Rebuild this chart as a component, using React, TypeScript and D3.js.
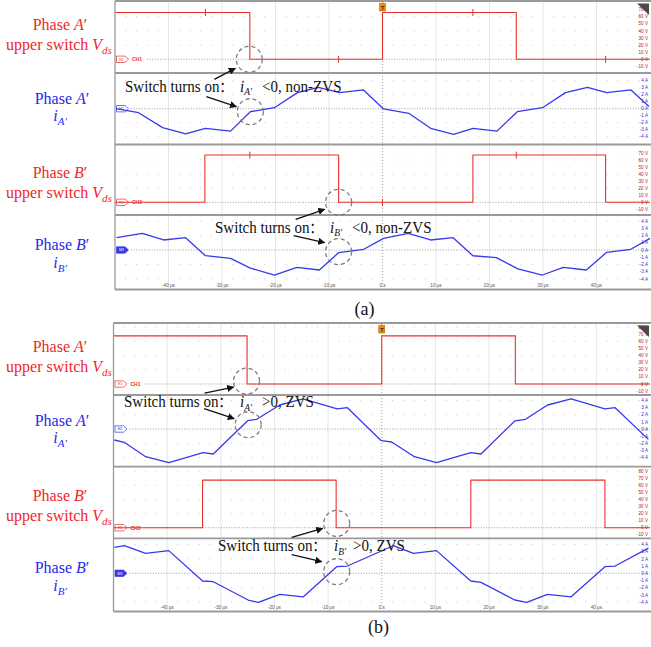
import React from "react";
import * as d3 from "d3";

const W = 651;
const H = 647;
const RED = "#e8302a";
const RED_TXT = "#f02828";
const BLUE = "#3838ee";
const BLUE_TXT = "#2828f0";
const SERIF = "'Liberation Serif', 'Times New Roman', serif";
const SANS = "'Liberation Sans', Arial, sans-serif";

// ---------- axis ticks ----------
const timeTicks = [-40, -30, -20, -10, 0, 10, 20, 30, 40];
const timeTickLabels = ["-40 µs", "-30 µs", "-20 µs", "-10 µs", "0 s", "10 µs", "20 µs", "30 µs", "40 µs"];
const voltTicks = [80, 70, 60, 50, 40, 30, 20, 10, 0, -10];
const ampTicks = [4, 3, 2, 1, 0, -1, -2, -3, -4];

// ---------- (a) data ----------
const aVdsA_t = [-50, -24.8, 0, 25, 50];
const aVdsA_v = [66, 0, 66, 0, 0];
const aGlitchA = [-33.1, -8.2, 16.9, 41.7];
const aIA_t = [-49.8, -45.6, -41.1, -36.8, -33.1, -28.4, -24.7, -20.2, -15.9, -12.0, -8.0, -3.6, 0.2, 4.9, 9.0, 13.3, 16.9, 21.4, 25.2, 29.9, 34.2, 38.3, 41.9, 46.4, 49.8];
const aIA_i = [0, -0.57, -2.7, -3.6, -2.8, -3.2, -0.43, 0.14, 2.3, 3.06, 2.3, 2.7, -0.04, -0.66, -2.8, -3.66, -2.8, -3.2, -0.43, 0.14, 2.3, 3.06, 2.3, 2.7, 0.3];
const aVdsB_t = [-50, -33.2, -8.2, 16.9, 41.7, 50];
const aVdsB_v = [0, 67, 0, 67, 0, 0];
const aGlitchB = [-24.8, 0, 25];
const aIB_t = [-49.7, -44.9, -40.9, -36.8, -33.1, -28.4, -24.7, -20.2, -16.0, -11.8, -8.2, -3.5, 0.2, 4.8, 9.0, 13.2, 16.9, 21.3, 25.3, 29.9, 33.8, 38.1, 41.9, 46.4, 50];
const aIB_i = [1.7, 2.3, 1.38, 1.7, -0.79, -1.15, -2.5, -3.45, -2.4, -2.76, -0.37, 0.1, 1.6, 2.3, 1.38, 1.7, -0.79, -1.06, -2.6, -3.45, -2.4, -2.76, -0.32, 0.1, 1.6];

// ---------- (b) data ----------
const bVdsA_t = [-50, -25.1, 0, 24.9, 50];
const bVdsA_v = [67.5, 0, 67.5, 0, 0];
const bIA_t = [-49.85, -48.0, -44.0, -39.7, -33.3, -31.4, -25.0, -23.3, -19.0, -14.7, -8.3, -6.4, -0.1, 1.85, 6.1, 10.2, 16.6, 18.5, 24.8, 26.8, 30.9, 35.3, 41.6, 43.5, 49.7];
const bIA_i = [-1.55, -1.87, -3.9, -4.75, -3.34, -3.52, 1.17, 1.37, 3.38, 4.23, 2.82, 3.0, -1.65, -1.83, -3.9, -4.75, -3.34, -3.52, 1.13, 1.37, 3.38, 4.23, 2.82, 3.0, -1.46];
const bVdsB_t = [-50, -33.4, -8.5, 16.6, 41.6, 50];
const bVdsB_v = [0, 67, 0, 67, 0, 0];
const bIB_t = [-49.85, -48.0, -44.0, -39.7, -33.4, -31.4, -24.9, -23.0, -19.0, -14.6, -8.4, -6.4, 2.15, 5.9, 10.2, 16.6, 18.5, 24.8, 27.0, 30.9, 35.3, 41.6, 43.5, 49.7];
const bIB_i = [3.6, 3.83, 2.78, 3.15, -1.07, -1.17, -3.71, -4.04, -2.93, -3.26, 0.92, 1.01, 3.83, 2.78, 3.15, -1.07, -1.25, -3.71, -4.04, -2.93, -3.26, 0.92, 1.01, 3.49];

// switching instants marked by dashed circles: [time, value]
const aCircles = [[-24.9, 0], [-24.7, -0.43], [-8.2, 0], [-8.2, -0.23]];
const bCircles = [[-25.2, 4], [-24.9, 0.6], [-8.4, 6], [-8.4, 0.22]];

type Panel = {
  kind: "v" | "i";
  top: number;
  bottom: number;
  zero: number;
  step: number;
  t: number[];
  y: number[];
  tag: string;
  ch?: string;
  glitch?: number[];
  filled?: boolean;
};

type ScreenCfg = {
  left: number;
  right: number;
  top: number;
  bottom: number;
  labelY: number;
  panels: Panel[];
  circles: number[][];
  arrows: number[][][];
};

const screenA: ScreenCfg = {
  left: 115,
  right: 650,
  top: 1,
  bottom: 289.5,
  labelY: 287,
  panels: [
    { kind: "v", top: 1, bottom: 73, zero: 59.3, step: 0.71, t: aVdsA_t, y: aVdsA_v, tag: "R1", ch: "CH1", glitch: aGlitchA },
    { kind: "i", top: 73, bottom: 144.5, zero: 108.7, step: 7.0, t: aIA_t, y: aIA_i, tag: "M1" },
    { kind: "v", top: 144.5, bottom: 215, zero: 202.3, step: 0.705, t: aVdsB_t, y: aVdsB_v, tag: "R3", ch: "CH3", glitch: aGlitchB },
    { kind: "i", top: 215, bottom: 289.5, zero: 250, step: 7.25, t: aIB_t, y: aIB_i, tag: "M3", filled: true },
  ],
  circles: aCircles,
  arrows: [
    [[-35, 20], [-14, 9]],
    [[-44, -15], [-14, -5]],
    [[-43, 17], [-14, 7]],
    [[-45, -16], [-14, -9]],
  ],
};

const screenB: ScreenCfg = {
  left: 113.5,
  right: 650,
  top: 323,
  bottom: 611.5,
  labelY: 609,
  panels: [
    { kind: "v", top: 323, bottom: 395, zero: 384, step: 0.713, t: bVdsA_t, y: bVdsA_v, tag: "R1", ch: "CH1" },
    { kind: "i", top: 395, bottom: 466.7, zero: 429, step: 7.1, t: bIA_t, y: bIA_i, tag: "M1" },
    { kind: "v", top: 466.7, bottom: 538.3, zero: 527.7, step: 0.71, t: bVdsB_t, y: bVdsB_v, tag: "R3", ch: "CH3" },
    { kind: "i", top: 538.3, bottom: 611.5, zero: 573.3, step: 7.2, t: bIB_t, y: bIB_i, tag: "M3", filled: true },
  ],
  circles: bCircles,
  arrows: [
    [[-42, 12], [-13, 6]],
    [[-44, -16], [-14, -6]],
    [[-45, 14], [-14, 5]],
    [[-45, -17], [-15, -10]],
  ],
};

function Screen({ cfg, id }: { cfg: ScreenCfg; id: string }) {
  const x = d3.scaleLinear().domain([-50, 50]).range([cfg.left, cfg.right]);
  const scales = cfg.panels.map((p) =>
    d3.scaleLinear().domain([0, 1]).range([p.zero, p.zero - p.step])
  );
  const dotsX = d3.range(-48, 50, 2).filter((v) => v % 10 !== 0);

  return (
    <g>
      <defs>
        {cfg.panels.map((p, k) => (
          <clipPath id={`${id}-clip${k}`} key={k}>
            <rect x={cfg.left} y={p.top} width={cfg.right - cfg.left} height={p.bottom - p.top} />
          </clipPath>
        ))}
      </defs>
      {cfg.panels.map((p, k) => {
        const ys: number[] = [];
        const rowStep = 2 * (p.kind === "v" ? 10 : 1) * p.step;
        for (let yy = p.zero - rowStep; yy > p.top + 2; yy -= rowStep) ys.push(yy);
        for (let yy = p.zero + rowStep; yy < p.bottom - 2; yy += rowStep) ys.push(yy);
        return (
          <g key={"grid" + k}>
            {ys.map((yy, j) =>
              dotsX.map((tv) => (
                <rect key={j + "-" + tv} x={x(tv) - 0.5} y={yy - 0.5} width={1} height={1} fill="#c9c9c9" />
              ))
            )}
          </g>
        );
      })}
      {timeTicks.map((tv) =>
        tv === 0 ? (
          <line key={tv} x1={x(tv)} x2={x(tv)} y1={cfg.top} y2={cfg.bottom} stroke="#9a9a9a" strokeWidth={0.9} strokeDasharray="1 2" />
        ) : (
          <line key={tv} x1={x(tv)} x2={x(tv)} y1={cfg.top} y2={cfg.bottom} stroke="#dedede" strokeWidth={0.8} />
        )
      )}
      {cfg.panels.map((p, k) => {
        const color = p.kind === "v" ? RED : BLUE;
        const zx = cfg.left + (p.ch ? 32 : 16);
        return (
          <g key={"zero" + k}>
            <line x1={zx} x2={cfg.right} y1={p.zero} y2={p.zero} stroke="#8a8a8a" strokeWidth={0.8} strokeDasharray="1 1.6" />
            <path
              d={`M${cfg.left + 1.5},${p.zero - 3.2} L${cfg.left + 10},${p.zero - 3.2} L${cfg.left + 13.5},${p.zero} L${cfg.left + 10},${p.zero + 3.2} L${cfg.left + 1.5},${p.zero + 3.2} Z`}
              fill={p.filled ? color : "#fff"}
              stroke={color}
              strokeWidth={0.7}
            />
            <text x={cfg.left + 6.5} y={p.zero + 1.4} fontSize={3.6} fontFamily={SANS} textAnchor="middle" fill={p.filled ? "#fff" : color}>
              {p.tag}
            </text>
            {p.ch && (
              <text x={cfg.left + 17} y={p.zero + 1.8} fontSize={5} fontFamily={SANS} fill={RED} fontWeight="bold">
                {p.ch}
              </text>
            )}
          </g>
        );
      })}
      {cfg.panels.map((p, k) => {
        const ys = scales[k];
        const pts = p.t.map((tv, j) => [tv, p.y[j]] as [number, number]);
        const line = d3
          .line<[number, number]>()
          .x((d) => x(d[0]))
          .y((d) => ys(d[1]))
          .curve(p.kind === "v" ? d3.curveStepAfter : d3.curveLinear);
        const color = p.kind === "v" ? RED : BLUE;
        return (
          <g key={"trace" + k} clipPath={`url(#${id}-clip${k})`}>
            <path d={line(pts) || ""} fill="none" stroke={color} strokeWidth={p.kind === "v" ? 1.1 : 1.3} strokeLinejoin="round" />
            {(p.glitch || []).map((gt) => {
              const idx = d3.bisectRight(p.t, gt) - 1;
              const lv = p.y[Math.max(0, idx)];
              return <line key={gt} x1={x(gt)} x2={x(gt)} y1={ys(lv) - 3.5} y2={ys(lv) + 3.5} stroke={color} strokeWidth={1} />;
            })}
          </g>
        );
      })}
      {cfg.panels.map((p, k) => {
        const ys = scales[k];
        const ticks = p.kind === "v" ? voltTicks : ampTicks;
        return (
          <g key={"rl" + k}>
            {ticks
              .filter((v) => ys(v) > p.top + 2 && ys(v) < p.bottom - 2)
              .map((v) => (
                <text
                  key={v}
                  x={cfg.right - 2}
                  y={ys(v) + 1.6}
                  fontSize={4.6}
                  fontFamily={SANS}
                  textAnchor="end"
                  fill={p.kind === "v" ? "#b52020" : "#2f2fd0"}
                >
                  {p.kind === "v" ? `${v} V` : `${v} A`}
                </text>
              ))}
          </g>
        );
      })}
      {cfg.panels.slice(1).map((p, k) => (
        <line key={"sep" + k} x1={cfg.left} x2={cfg.right + 1} y1={p.top} y2={p.top} stroke="#9a9a9a" strokeWidth={1.8} />
      ))}
      <line x1={cfg.left} x2={cfg.right + 1} y1={cfg.top} y2={cfg.top} stroke="#9a9a9a" strokeWidth={1.8} />
      <line x1={cfg.left} x2={cfg.right + 1} y1={cfg.bottom} y2={cfg.bottom} stroke="#9a9a9a" strokeWidth={2} />
      <line x1={cfg.left} x2={cfg.left} y1={cfg.top} y2={cfg.bottom} stroke="#9a9a9a" strokeWidth={1.3} />
      {timeTicks.map((tv, j) => (
        <text key={tv} x={x(tv)} y={cfg.labelY} fontSize={4.6} fontFamily={SANS} textAnchor="middle" fill="#555">
          {timeTickLabels[j]}
        </text>
      ))}
      <path d={`M${x(0) - 2},${cfg.top} L${x(0) + 2},${cfg.top} L${x(0)},${cfg.top + 2.5} Z`} fill="#f08a00" />
      <rect x={x(0) - 3} y={cfg.top + 2.5} width={6} height={7.5} fill="#f08a00" stroke="#b06000" strokeWidth={0.5} />
      <text x={x(0)} y={cfg.top + 8.6} fontSize={6} fontFamily={SANS} fontWeight="bold" textAnchor="middle" fill="#333">
        T
      </text>
      <path d={`M${cfg.right - 13},${cfg.top + 2.5} L${cfg.right - 1},${cfg.top + 2.5} L${cfg.right - 1},${cfg.top + 14} Z`} fill="#4a4a4a" />
      {cfg.circles.map((c, k) => {
        const pIdx = [0, 1, 2, 3][k];
        const cx = x(c[0]);
        const cy = scales[pIdx](c[1]);
        const ar = cfg.arrows[k];
        return (
          <g key={"circ" + k}>
            <circle cx={cx} cy={cy} r={13} fill="none" stroke="#7d7d7d" strokeWidth={1.3} strokeDasharray="4 3" />
            <line
              x1={cx + ar[0][0]}
              y1={cy + ar[0][1]}
              x2={cx + ar[1][0]}
              y2={cy + ar[1][1]}
              stroke="#111"
              strokeWidth={1.3}
              markerEnd="url(#arrowHead)"
            />
          </g>
        );
      })}
    </g>
  );
}

function Sub({ children }: { children: React.ReactNode }) {
  return (
    <tspan fontStyle="italic" fontSize={11} dy={4}>
      {children}
    </tspan>
  );
}

function LeftLabels({ ys, phase }: { ys: number[]; phase: string }) {
  return (
    <g fontFamily={SERIF} fontSize={16} textAnchor="middle">
      <text x={60} y={ys[0]} fill={RED_TXT}>
        Phase <tspan fontStyle="italic">{phase}</tspan>′
      </text>
      <text x={59} y={ys[1]} fill={RED_TXT}>
        upper switch <tspan fontStyle="italic">V</tspan>
        <Sub>ds</Sub>
      </text>
      <text x={62} y={ys[2]} fill={BLUE_TXT}>
        Phase <tspan fontStyle="italic">{phase}</tspan>′
      </text>
      <text x={60} y={ys[3]} fill={BLUE_TXT}>
        <tspan fontStyle="italic">i</tspan>
        <Sub>{phase}′</Sub>
      </text>
    </g>
  );
}

const NOTE_SX = 0.86;

function Note({ x0, xi, xr, y, phase, rest }: { x0: number; xi: number; xr: number; y: number; phase: string; rest: string }) {
  return (
    <g transform={`translate(${x0},${y}) scale(${NOTE_SX},1)`} fontFamily={SERIF} fontSize={17.5} fill="#111">
      <text x={0} y={0}>
        Switch turns on<tspan fontFamily="'Noto Sans CJK SC', sans-serif" fontSize={15}>：</tspan>
      </text>
      <text x={(xi - x0) / NOTE_SX} y={0}>
        <tspan fontStyle="italic">i</tspan>
        <tspan fontStyle="italic" fontSize={11} dy={3.5}>
          {phase}′
        </tspan>
      </text>
      <text x={(xr - x0) / NOTE_SX} y={0}>{rest}</text>
    </g>
  );
}

export default function App() {
  return (
    <div style={{ position: "absolute", left: 0, top: 0 }}>
      <svg width={W} height={H} style={{ display: "block", background: "#fff" }}>
        <defs>
          <marker id="arrowHead" viewBox="0 0 10 10" refX={9} refY={5} markerWidth={5.5} markerHeight={5.5} orient="auto">
            <path d="M0,0 L10,5 L0,10 Z" fill="#111" />
          </marker>
        </defs>
        <rect x={0} y={0} width={W} height={H} fill="#fff" />
        <Screen cfg={screenA} id="sa" />
        <Screen cfg={screenB} id="sb" />

        <LeftLabels ys={[29.5, 49.5, 104, 121]} phase="A" />
        <LeftLabels ys={[178.3, 198.3, 250, 267.5]} phase="B" />
        <LeftLabels ys={[351.7, 371.7, 425.7, 443]} phase="A" />
        <LeftLabels ys={[500.7, 521, 573.3, 590.5]} phase="B" />

        <Note x0={125} xi={240} xr={262} y={91.7} phase="A" rest="<0, non-ZVS" />
        <Note x0={215} xi={330} xr={352} y={232.7} phase="B" rest="<0, non-ZVS" />
        <Note x0={124} xi={240} xr={262} y={407.3} phase="A" rest=">0, ZVS" />
        <Note x0={218} xi={334} xr={353} y={551} phase="B" rest=">0, ZVS" />

        <text x={364.5} y={315} fontFamily={SERIF} fontSize={18} textAnchor="middle" fill="#111">
          (a)
        </text>
        <text x={378.5} y={633} fontFamily={SERIF} fontSize={18} textAnchor="middle" fill="#111">
          (b)
        </text>
      </svg>
    </div>
  );
}
